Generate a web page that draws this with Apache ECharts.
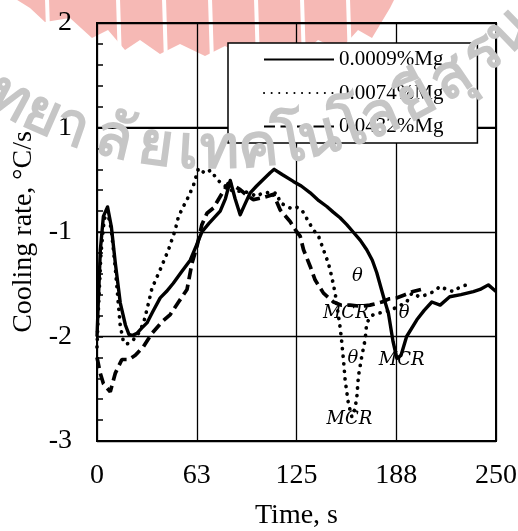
<!DOCTYPE html>
<html>
<head>
<meta charset="utf-8">
<script src="https://cdn.jsdelivr.net/npm/echarts@6/dist/echarts.min.js"></script>
<style>
  html, body { margin: 0; padding: 0; background: #fff; }
  #chart { width: 518px; height: 531px; }
</style>
</head>
<body>
<div id="chart"></div>
<script>
// Cooling-rate curves for three Mg levels (time in s, rate on the plotted scale)
const seriesNames = ['0.0009%Mg', '0.0074%Mg', '0.0432%Mg'];

const mg0009Time = [0, 1, 2.1, 4, 6.6, 9, 11.5, 14.6, 17.8, 20, 22, 25, 28, 31.3, 35, 39.6, 43.5, 47.8, 53, 58.4,
  62.5, 65.7, 70, 77.2, 80.5, 83.5, 86.5, 89.7, 92.5, 96, 100, 104, 108.5, 111, 116, 123, 128, 133.6, 139, 144,
  148, 152.3, 156.5, 160.5, 165, 169, 172.5, 175.3, 179.5, 182.6, 185.5, 187.9, 190.5, 194, 200.4, 205, 209.8,
  215, 221, 228, 235.8, 240, 245.2, 250];
const mg0009Rate = [-2.0, -1.6, -1.17, -0.85, -0.76, -0.95, -1.30, -1.68, -1.89, -1.98, -1.99, -1.97, -1.92, -1.87,
  -1.76, -1.63, -1.57, -1.49, -1.38, -1.27, -1.12, -1.0, -0.92, -0.80, -0.68, -0.507, -0.68, -0.835, -0.74, -0.625,
  -0.56, -0.50, -0.433, -0.40, -0.45, -0.516, -0.56, -0.625, -0.70, -0.756, -0.81, -0.864, -0.93, -1.0, -1.08,
  -1.17, -1.27, -1.39, -1.62, -1.777, -2.05, -2.21, -2.18, -2.0, -1.84, -1.75, -1.67, -1.70, -1.62, -1.60, -1.57,
  -1.55, -1.506, -1.57];

const mg0074Time = [0, 1, 2.5, 4.5, 6.5, 9, 11.5, 13.5, 14.6, 16.7, 19, 22, 25, 29.2, 32.3, 34.4, 39.6, 44.8, 49,
  51.1, 55.3, 57.4, 60.5, 63.6, 67.8, 71, 76.1, 80.3, 84, 87.7, 91.8, 96, 100, 103.3, 108, 112.7, 114.8, 121,
  124.2, 128.4, 132.5, 135.6, 138.8, 141.9, 145, 147.1, 149.2, 150.8, 152.4, 153.4, 154.4, 155.5, 157.5, 159.7,
  161.5, 162.8, 163.8, 165.9, 168, 169, 172, 175.3, 181.6, 188, 194, 197.3, 202, 206.6, 211, 215, 219, 223.3,
  227, 231.7];
const mg0074Rate = [-2.1, -1.7, -1.2, -0.88, -0.80, -0.98, -1.35, -1.71, -1.90, -2.06, -2.07, -2.04, -2.0, -1.87,
  -1.68, -1.54, -1.36, -1.17, -0.98, -0.85, -0.72, -0.66, -0.55, -0.39, -0.44, -0.41, -0.51, -0.56, -0.60, -0.61,
  -0.61, -0.63, -0.66, -0.63, -0.62, -0.63, -0.72, -0.77, -0.756, -0.79, -0.90, -0.98, -1.04, -1.17, -1.30, -1.43,
  -1.585, -1.75, -1.92, -2.06, -2.22, -2.42, -2.64, -2.77, -2.70, -2.58, -2.38, -2.19, -2.03, -1.87, -1.80, -1.78,
  -1.76, -1.72, -1.67, -1.585, -1.62, -1.60, -1.57, -1.52, -1.55, -1.57, -1.53, -1.505];

const mg0432Time = [0, 2, 4, 8.3, 11.5, 15.6, 20, 24, 29, 34.4, 40.7, 45.9, 51.1, 56.4, 59.5, 62.6, 65.7, 68.9,
  73, 77.2, 82.4, 86, 89.7, 94, 98, 104.3, 110.6, 114.8, 121, 125.2, 127.3, 129.4, 133.6, 136.7, 141.9, 148.2,
  153, 158.6, 165, 171, 178.5, 183, 188, 193, 198, 203];
const mg0432Rate = [-2.2, -2.35, -2.45, -2.53, -2.35, -2.22, -2.22, -2.18, -2.10, -1.97, -1.86, -1.79, -1.67,
  -1.55, -1.30, -1.14, -0.93, -0.82, -0.77, -0.66, -0.53, -0.56, -0.595, -0.65, -0.69, -0.67, -0.64, -0.79, -0.90,
  -1.0, -1.04, -1.17, -1.33, -1.46, -1.585, -1.67, -1.70, -1.70, -1.71, -1.70, -1.67, -1.64, -1.63, -1.60, -1.57,
  -1.55];

// Axis ticks
const xTickValues = [0, 62.5, 125, 187.5, 250];
const xTickLabels = ['0', '63', '125', '188', '250'];
const yTickValues = [-3, -2, -1, 0, 1];
const yTickLabels = ['-3', '-2', '-1', '1', '2'];

// Markers for the recalescence points (θ) and minimum cooling rate (MCR)
const noteTime = [163.2, 155.9, 192.4, 190.9, 160.3, 158.2];
const noteRate = [-1.427, -1.775, -1.78, -2.23, -2.21, -2.79];
const noteText = ['θ', 'MCR', 'θ', 'MCR', 'θ', 'MCR'];

const zip = (a, b) => a.map((v, i) => [v, b[i]]);
const serif = '"Liberation Serif", "Times New Roman", serif';

// University watermark: letter clusters laid along an arc
const markClusters = ['ท', 'ย', 'า', 'ลั', 'ย', 'เ', 'ท', 'ค', 'โ', 'น', 'โ', 'ล', 'ยี', 'สุ', 'ร', 'น'];
const markX = [10, 42, 72, 114, 156, 188, 220, 258, 290, 320, 350, 380, 416, 452, 484, 510];

function watermark() {
  const cx = 213, cy = -277, r = 428;
  const els = [];
  // pink crest at the top
  els.push({
    type: 'polygon', z: -10, silent: true,
    shape: { points: [[14, -2], [395, -2], [390, 8], [372, 38], [358, 30], [340, 50], [318, 40], [300, 56],
      [272, 44], [248, 58], [225, 46], [205, 56], [180, 44], [160, 54], [140, 40], [125, 50], [108, 30],
      [92, 38], [70, 18], [45, 22], [30, 8]] },
    style: { fill: '#f6b9b5' }
  });
  [47, 118, 164, 210, 256, 302, 348].forEach(function (x) {
    els.push({ type: 'line', z: -9, silent: true, shape: { x1: x, y1: -2, x2: x + 2, y2: 62 },
      style: { stroke: '#fff', lineWidth: 4 } });
  });
  markClusters.forEach(function (ch, i) {
    const a = Math.asin(Math.max(-1, Math.min(1, (markX[i] - cx) / r)));
    els.push({
      type: 'text', z: 200, silent: true,
      x: markX[i], y: cy + r * Math.cos(a), rotation: a,
      style: { text: ch, fill: '#c6c6c6', font: 'bold 60px "Noto Sans", sans-serif',
        align: 'center', verticalAlign: 'middle', blend: 'multiply' }
    });
  });
  return els;
}

const chart = echarts.init(document.getElementById('chart'), null, { renderer: 'canvas' });

const lineBase = { type: 'line', symbol: 'none', smooth: false, z: 3, itemStyle: { color: '#000', opacity: 0 } };

chart.setOption({
  backgroundColor: '#fff',
  animation: false,
  grid: { left: 97, right: 22, top: 23, bottom: 90, show: true, borderColor: '#000', borderWidth: 2,
    containLabel: false, outerBoundsMode: 'none' },
  legend: {
    orient: 'vertical', left: 228, top: 43,
    padding: [6, 34, 6, 35], itemGap: 12.5, itemWidth: 70, itemHeight: 20,
    backgroundColor: 'rgba(255,255,255,1)', borderColor: '#000', borderWidth: 1.5,
    itemStyle: { opacity: 0 },
    textStyle: { fontFamily: serif, fontSize: 21, color: '#000', lineHeight: 21 },
    data: seriesNames
  },
  xAxis: {
    type: 'value', min: 0, max: 250, interval: 62.5,
    axisLine: { show: true, lineStyle: { color: '#000', width: 2 } },
    axisTick: { show: false },
    splitLine: { show: true, lineStyle: { color: '#000', width: 1.3 } },
    axisLabel: { fontFamily: serif, fontSize: 28, color: '#000', margin: 21,
      formatter: v => xTickLabels[xTickValues.indexOf(v)] ?? '' },
    name: 'Time, s', nameLocation: 'middle', nameGap: 61,
    nameTextStyle: { fontFamily: serif, fontSize: 28, color: '#000' }
  },
  yAxis: {
    type: 'value', min: -3, max: 1, interval: 1,
    axisLine: { show: true, lineStyle: { color: '#000', width: 2 } },
    axisTick: { show: true, inside: true, length: 6, lineStyle: { color: '#000', width: 1.5 } },
    minorTick: { show: true, splitNumber: 5, length: 6, lineStyle: { color: '#000', width: 1.5 } },
    splitLine: { show: true, lineStyle: { color: '#000', width: 1.3 } },
    axisLabel: { fontFamily: serif, fontSize: 28, color: '#000', margin: 25,
      formatter: v => yTickLabels[yTickValues.indexOf(v)] ?? '' },
    name: 'Cooling rate, °C/s', nameLocation: 'middle', nameGap: 53, nameRotate: 90,
    nameTextStyle: { fontFamily: serif, fontSize: 28, color: '#000' }
  },
  graphic: watermark(),
  series: [
    Object.assign({}, lineBase, { name: seriesNames[0], data: zip(mg0009Time, mg0009Rate),
      lineStyle: { color: '#000', width: 3.4, type: 'solid', join: 'round' } }),
    Object.assign({}, lineBase, { name: seriesNames[1], data: zip(mg0074Time, mg0074Rate),
      lineStyle: { color: '#000', width: 3.7, type: [0.1, 7.5], cap: 'round' } }),
    Object.assign({}, lineBase, { name: seriesNames[2], data: zip(mg0432Time, mg0432Rate),
      lineStyle: { color: '#000', width: 3.7, type: [11, 5.5], cap: 'butt' } }),
    {
      type: 'scatter', symbolSize: 1, itemStyle: { color: 'rgba(0,0,0,0)' }, z: 4, silent: true,
      data: noteTime.map((t, i) => ({ value: [t, noteRate[i]], name: noteText[i] })),
      label: { show: true, position: 'inside', formatter: '{b}', color: '#000', opacity: 1,
        fontFamily: '"DejaVu Serif", serif', fontStyle: 'italic', fontSize: 18 }
    }
  ]
});
</script>
</body>
</html>
